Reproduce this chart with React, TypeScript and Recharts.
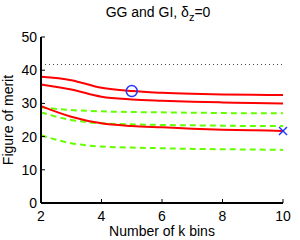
import {
  ComposedChart, Line, Scatter, XAxis, YAxis, ReferenceLine,
} from 'recharts';

// number of k bins
const bins = [2, 3, 4, 5, 6, 7, 8, 9, 10];

// solid red curves
const red1 = [38.0, 37.0, 34.7, 33.7, 33.2, 32.9, 32.7, 32.6, 32.5];
const red2 = [35.7, 34.2, 32.0, 31.2, 30.8, 30.5, 30.3, 30.1, 30.0];
const red3 = [29.2, 26.0, 24.0, 23.2, 22.8, 22.4, 22.1, 21.9, 21.7];

// dashed green curves
const green1 = [28.8, 28.0, 27.6, 27.4, 27.3, 27.2, 27.1, 27.0, 27.0];
const green2 = [27.3, 25.0, 24.0, 23.7, 23.5, 23.4, 23.3, 23.2, 23.2];
const green3 = [20.4, 18.0, 17.0, 16.7, 16.5, 16.3, 16.2, 16.1, 16.0];

const dottedLevel = 41.7;

const circlePt = [{ k: 5, v: 33.7 }];
const crossPt = [{ k: 10, v: 21.7 }];

const xTicks = [2, 4, 6, 8, 10];
const yTicks = [0, 10, 20, 30, 40, 50];

const data = bins.map((k, i) => ({
  k,
  r1: red1[i], r2: red2[i], r3: red3[i],
  g1: green1[i], g2: green2[i], g3: green3[i],
}));

const FONT = '"Liberation Sans", Arial, Helvetica, sans-serif';
const RED = '#ff0000';
const GREEN = '#66ff00';
const BLUE = '#2233ff';
const TICK = 4;
const X_GAP = 8;

// ticks drawn inward, matlab style
function BottomTick(props: any) {
  const { x, y, payload } = props;
  const base = y - X_GAP;
  return (
    <g>
      <line x1={x} y1={base} x2={x} y2={base - TICK} stroke="#000" />
      <text x={x} y={y} dy="0.71em" textAnchor="middle" fill="#000" fontSize={14} fontFamily={FONT}>
        {payload.value}
      </text>
    </g>
  );
}

function TopTick(props: any) {
  const { x, y } = props;
  return <line x1={x} y1={y} x2={x} y2={y + TICK} stroke="#000" />;
}

function LeftTick(props: any) {
  const { x, y, payload } = props;
  const base = x + 4;
  return (
    <g>
      <line x1={base} y1={y} x2={base + TICK} y2={y} stroke="#000" />
      <text x={x} y={y} dy="0.36em" textAnchor="end" fill="#000" fontSize={14} fontFamily={FONT}>
        {payload.value}
      </text>
    </g>
  );
}

function RightTick(props: any) {
  const { x, y } = props;
  return <line x1={x} y1={y} x2={x - TICK} y2={y} stroke="#000" />;
}

function XLabel(props: any) {
  const { viewBox } = props;
  const cx = viewBox.x + viewBox.width / 2;
  const by = viewBox.y + viewBox.height - 4;
  return (
    <text x={cx} y={by} textAnchor="middle" fill="#000" fontSize={14} fontFamily={FONT}>
      Number of k bins
    </text>
  );
}

function YLabel(props: any) {
  const { viewBox } = props;
  const bx = viewBox.x + 13;
  const cy = viewBox.y + viewBox.height / 2;
  return (
    <text x={bx} y={cy} transform={`rotate(-90 ${bx} ${cy})`} textAnchor="middle" fill="#000" fontSize={14} fontFamily={FONT}>
      Figure of merit
    </text>
  );
}

function CircleMark(props: any) {
  const { cx, cy } = props;
  return <circle cx={cx} cy={cy} r={5.5} fill="none" stroke={BLUE} strokeWidth={1.5} />;
}

function CrossMark(props: any) {
  const { cx, cy } = props;
  const s = 4;
  return (
    <g stroke={BLUE} strokeWidth={1.5}>
      <line x1={cx - s} y1={cy - s} x2={cx + s} y2={cy + s} />
      <line x1={cx - s} y1={cy + s} x2={cx + s} y2={cy - s} />
    </g>
  );
}

const axisLine = { stroke: '#000', strokeWidth: 2 };

export default function App() {
  return (
    <div style={{ position: 'absolute', left: 0, top: 0, width: 300, height: 240, background: '#fff', fontFamily: FONT }}>
      <div style={{ position: 'absolute', left: 0, width: 300, top: 4, textAlign: 'center', paddingLeft: 16, boxSizing: 'border-box', fontSize: 14, color: '#000' }}>
        GG and GI, δ<sub style={{ fontSize: 11 }}>z</sub>=0
      </div>
      <ComposedChart
        width={300}
        height={240}
        data={data}
        margin={{ top: 37, right: 17, bottom: 0, left: 0 }}
      >
        <XAxis
          dataKey="k"
          type="number"
          domain={[2, 10]}
          ticks={xTicks}
          height={37}
          tickSize={0}
          tickMargin={X_GAP}
          tick={<BottomTick />}
          axisLine={axisLine}
          tickLine={false}
          label={<XLabel />}
        />
        <XAxis
          xAxisId="top"
          dataKey="k"
          type="number"
          orientation="top"
          domain={[2, 10]}
          ticks={xTicks}
          height={0}
          tickSize={0}
          tickMargin={0}
          tick={<TopTick />}
          axisLine={axisLine}
          tickLine={false}
        />
        <YAxis
          type="number"
          domain={[0, 50]}
          ticks={yTicks}
          width={41}
          tickSize={0}
          tickMargin={4}
          tick={<LeftTick />}
          axisLine={axisLine}
          tickLine={false}
          label={<YLabel />}
        />
        <YAxis
          yAxisId="right"
          orientation="right"
          type="number"
          domain={[0, 50]}
          ticks={yTicks}
          width={0}
          tickSize={0}
          tickMargin={0}
          tick={<RightTick />}
          axisLine={axisLine}
          tickLine={false}
        />
        <ReferenceLine y={dottedLevel} stroke="#444" strokeDasharray="1 3" strokeWidth={1} />
        <Line dataKey="g1" type="monotone" stroke={GREEN} strokeWidth={2} strokeDasharray="6 4" dot={false} isAnimationActive={false} />
        <Line dataKey="g2" type="monotone" stroke={GREEN} strokeWidth={2} strokeDasharray="6 4" dot={false} isAnimationActive={false} />
        <Line dataKey="g3" type="monotone" stroke={GREEN} strokeWidth={2} strokeDasharray="6 4" dot={false} isAnimationActive={false} />
        <Line dataKey="r1" type="monotone" stroke={RED} strokeWidth={2} dot={false} isAnimationActive={false} />
        <Line dataKey="r2" type="monotone" stroke={RED} strokeWidth={2} dot={false} isAnimationActive={false} />
        <Line dataKey="r3" type="monotone" stroke={RED} strokeWidth={2} dot={false} isAnimationActive={false} />
        <Scatter data={circlePt} dataKey="v" shape={<CircleMark />} isAnimationActive={false} />
        <Scatter data={crossPt} dataKey="v" shape={<CrossMark />} isAnimationActive={false} />
      </ComposedChart>
    </div>
  );
}
